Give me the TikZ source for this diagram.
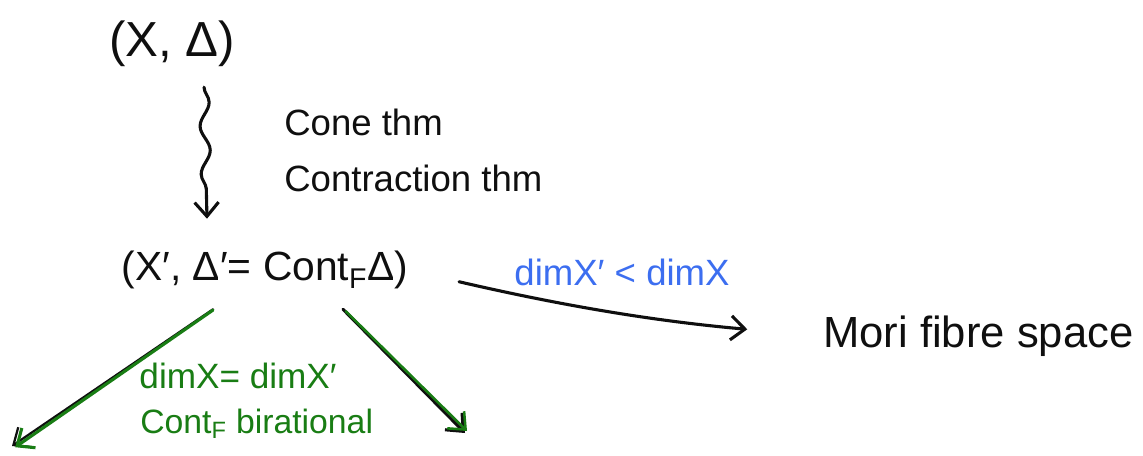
\documentclass[tikz,border=0pt]{standalone}
\usepackage{fontspec}
\setmainfont{Liberation Sans}
\usepackage{tikz}
\usetikzlibrary{arrows.meta,decorations.pathmorphing,positioning}
\definecolor{penblack}{RGB}{15,15,15}
\definecolor{pengreen}{RGB}{25,125,20}
\definecolor{penblue}{RGB}{60,110,240}
\tikzset{
  hand/.style={font=\fontsize{26}{30}\selectfont, inner sep=0pt, text=penblack},
  bighand/.style={font=\fontsize{35}{40}\selectfont, inner sep=0pt, text=penblack},
  greenhand/.style={hand, text=pengreen, align=left},
  bluehand/.style={hand, text=penblue},
  flow/.style={-{Straight Barb[length=3.5mm,width=6mm]}, line width=2.2pt,
               draw=penblack, line cap=round},
  greenflow/.style={flow, draw=pengreen, line width=2.2pt},
  squiggle/.style={flow, decorate,
                   decoration={snake, segment length=12mm, amplitude=1.2mm,
                               post length=5mm}},
}
\begin{document}
\begin{tikzpicture}[x=0.025cm,y=-0.025cm]
  \path[use as bounding box] (0,0) rectangle (1143,455);

  % the pair and its outcome after contraction
  \node[bighand] (XD) at (172,44) {(X, Δ)};
  \node[hand, font=\fontsize{29}{34}\selectfont] (XDp) at (265,270)
    {(X′, Δ′= Cont\textsubscript{F}Δ)};

  % the two theorems used
  \node[hand, anchor=west] (cone) at (284,122) {Cone thm};
  \node[hand, anchor=west] (contr) at (284,178) {Contraction thm};
  \draw[squiggle] ([xshift=0.8cm,yshift=-0.5cm]XD.south)
    -- ([xshift=-1.45cm,yshift=0.8cm]XDp.north);

  % dimension drops
  \node[hand, font=\fontsize{31}{36}\selectfont, anchor=west] (mori) at (823,336)
    {Mori fibre space};
  \draw[flow, shorten <=1.3cm, shorten >=1.9cm]
    (XDp.east) to[bend right=4] (mori.west);
  \node[bluehand] (dimlab) at (622,272) {dimX′ < dimX};

  % birational contraction, both branches
  \coordinate (leftend) at (12,446);
  \coordinate (rightend) at (465,433);
  \draw[flow, line width=1.6pt] ([xshift=-1.3cm,yshift=-0.5cm]XDp.south) -- (leftend);
  \draw[greenflow] ([xshift=-1.3cm,yshift=-0.52cm]XDp.south)
    -- ([xshift=0.08cm,yshift=-0.03cm]leftend);
  \draw[flow] ([xshift=1.95cm,yshift=-0.5cm]XDp.south) -- (rightend);
  \draw[greenflow, line width=1.8pt] ([xshift=2.02cm,yshift=-0.55cm]XDp.south)
    -- ([xshift=0.05cm,yshift=0.05cm]rightend);
  \node[greenhand, font=\fontsize{25}{30}\selectfont] (eqdim) at (238,376)
    {dimX= dimX′};
  \node[greenhand, font=\fontsize{24}{28}\selectfont, anchor=west] (bir) at (140,424)
    {Cont\textsubscript{F} birational};
\end{tikzpicture}
\end{document}
